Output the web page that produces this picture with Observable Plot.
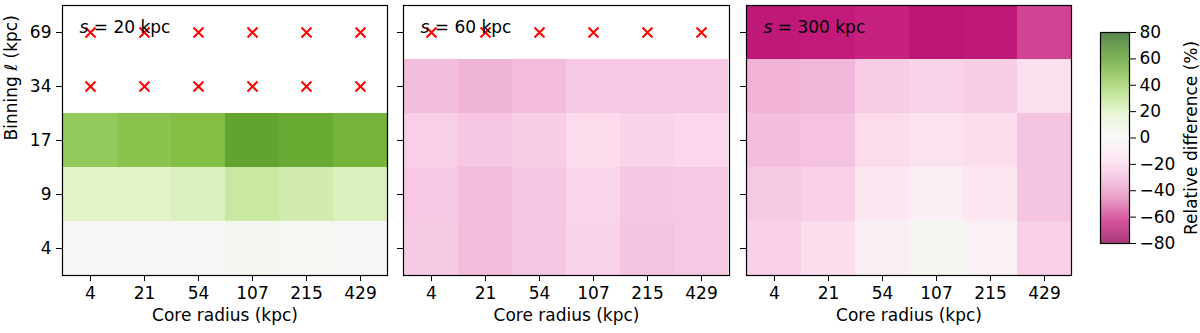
<!DOCTYPE html>
<html><head><meta charset="utf-8">
<script src="https://cdn.jsdelivr.net/npm/d3@7"></script>
<script src="https://cdn.jsdelivr.net/npm/@observablehq/plot@0.6"></script>
<style>
body{margin:0;background:#fff}
#chart{position:relative;width:1200px;height:333px;overflow:hidden;background:#fff}
#chart svg{position:absolute;top:0}
</style>
</head><body><div id="chart"></div>
<script>
const coreRadii = ["4","21","54","107","215","429"];
const binnings = ["69","34","17","9","4"];
const panelTitles = ["20 kpc","60 kpc","300 kpc"];
// rows follow binnings (69 at top), columns follow coreRadii; null = no value (red cross)
const diffS20 = [
  [null,null,null,null,null,null],
  [null,null,null,null,null,null],
  [42,45,47,57,55,51],
  [17,17.5,20,26,23,20],
  [1,1,1,3,2,-0.5]
];
const diffS60 = [
  [null,null,null,null,null,null],
  [-29,-32.5,-30,-25,-25,-25],
  [-22.5,-26,-23,-17.5,-21,-19.5],
  [-25,-29.5,-25.5,-20,-25.5,-25],
  [-24.5,-29.5,-25.5,-21,-26.5,-25]
];
const diffS300 = [
  [-66,-65,-63,-67,-66,-57],
  [-33,-32,-23.5,-21,-23,-16],
  [-29.5,-27,-18,-14,-17,-26.5],
  [-24.5,-22,-10.5,-5,-12,-26.5],
  [-22,-17,-6,3,-4,-22]
];
const colorTicks = [-80,-60,-40,-20,0,20,40,60,80];
const piyg = ["#8e0152","#c51b7d","#de77ae","#f1b6da","#fde0ef","#f7f7f7","#e6f5d0","#b8e186","#7fbc41","#4d9221","#276419"];

const colorScale = {type:"linear", domain:[-80,80], interpolate: d3.piecewise(d3.interpolateRgb, piyg)};
const FONT = "DejaVu Sans, sans-serif";
const FS = 17;
const minus = d => d < 0 ? "\u2212" + (-d) : String(d);

function table(values) {
  const out = [];
  binnings.forEach((b, i) => coreRadii.forEach((c, j) => out.push({core:c, bin:b, value:values[i][j]})));
  return out;
}

function panel(values, title, left, width, marginLeft, marginRight, first) {
  const data = table(values);
  const marks = [
    Plot.cell(data.filter(d => d.value != null), {x:"core", y:"bin", fill:"value", inset:0}),
    Plot.dot(data.filter(d => d.value == null), {x:"core", y:"bin", symbol:"times", stroke:"#ff0000", r:4.6, strokeWidth:2}),
    Plot.frame({stroke:"#000", strokeWidth:1.2}),
    Plot.axisX({tickSize:6, tickPadding:5, label:null, fontSize:FS}),
    Plot.axisY({tickSize:6, tickPadding:5, label:null, fontSize:FS, tickFormat: first ? d => d : () => ""}),
    Plot.text([title], {frameAnchor:"top-left", dx:17, dy:15, text:d => d, textAnchor:"start", fontSize:FS, fill:"#000", className:"ptitle"}),
    Plot.text(["Core radius (kpc)"], {frameAnchor:"bottom", dy:45, text:d => d, fontSize:FS, fill:"#000"})
  ];
  if (first) marks.push(Plot.text(["Binning \u2113 (kpc)"], {frameAnchor:"left", dx:-51, rotate:-90, text:d => d, fontSize:FS, fill:"#000"}));
  const svg = Plot.plot({
    width, height:333,
    marginLeft, marginRight, marginTop:5, marginBottom:58,
    style:{fontFamily:FONT, fontSize:FS + "px", color:"#000", background:"transparent", overflow:"visible"},
    x:{type:"band", domain:coreRadii, padding:0},
    y:{type:"band", domain:binnings, padding:0},
    color:colorScale,
    marks
  });
  svg.style.left = left + "px";
  d3.select(svg).selectAll(".ptitle text").each(function() {
    const t = d3.select(this);
    t.text(null);
    t.append("tspan").attr("font-style","italic").text("s");
    t.append("tspan").text(" = " + title);
  });
  return svg;
}

const chart = document.getElementById("chart");
chart.appendChild(panel(diffS20, panelTitles[0], 0, 395, 62, 8, true));
chart.appendChild(panel(diffS60, panelTitles[1], 395, 340, 8, 6, false));
chart.appendChild(panel(diffS300, panelTitles[2], 738, 340, 8, 7, false));

// colorbar
const ramp = d3.range(-80, 80, 0.5);
const cbar = Plot.plot({
  width:122, height:333,
  marginLeft:22, marginRight:71, marginTop:32, marginBottom:90,
  style:{fontFamily:FONT, fontSize:FS + "px", color:"#000", background:"transparent", overflow:"visible"},
  x:{domain:[0,1], axis:null},
  y:{domain:[-80,80]},
  color:colorScale,
  marks:[
    Plot.rect(ramp, {x1:0, x2:1, y1:d => d, y2:d => d + 0.5, fill:d => d + 0.25}),
    Plot.frame({stroke:"#000", strokeWidth:1.2}),
    Plot.axisY({anchor:"right", ticks:colorTicks, tickSize:6, tickPadding:4, tickFormat:minus, label:null, fontSize:FS}),
    Plot.text(["Relative difference (%)"], {x:1, y:0, dx:62, rotate:-90, text:d => d, fontSize:FS, fill:"#000"})
  ]
});
cbar.style.left = "1078px";
chart.appendChild(cbar);
</script>
</body></html>
